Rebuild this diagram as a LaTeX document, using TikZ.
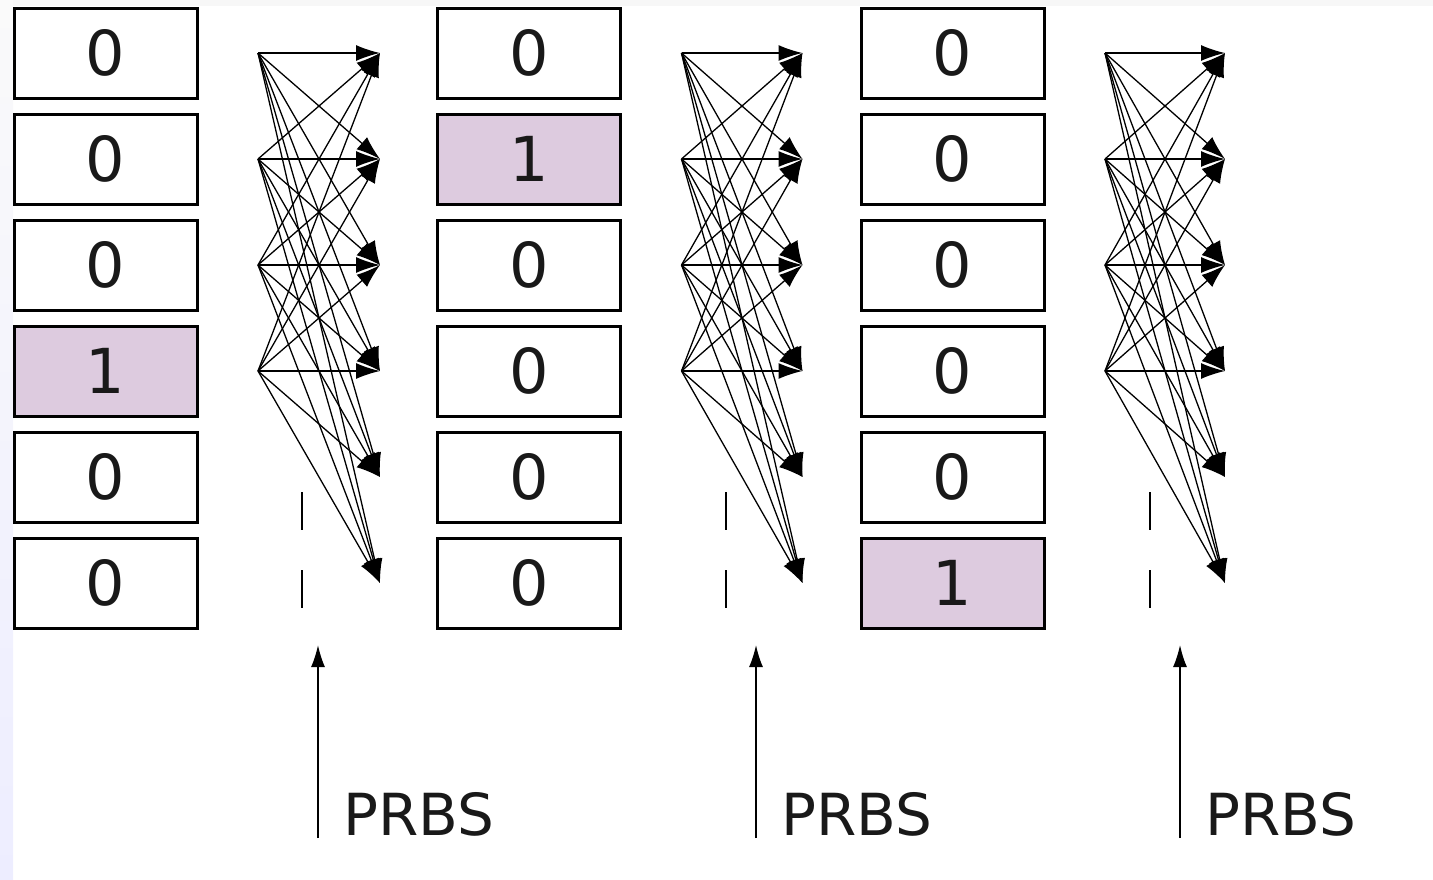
\documentclass[tikz,border=0pt]{standalone}
\usepackage{fontspec}
\setmainfont{DejaVu Sans}
\usetikzlibrary{arrows.meta}

\definecolor{bitpink}{RGB}{221,203,223}
\definecolor{ink}{RGB}{25,25,25}

\tikzset{
  cell/.style={draw, line width=3pt, minimum width=183pt, minimum height=90pt,
    inner sep=0pt, text=ink, font=\fontsize{62}{62}\selectfont},
  hot/.style={cell, fill=bitpink},
  wire/.style={line width=1.3pt, -{Latex[length=24pt,width=16pt]}},
  feed/.style={line width=1.5pt, -{Latex[length=22pt,width=14pt]}},
  gap/.style={line width=2pt, dash pattern=on 38pt off 40pt},
  tag/.style={anchor=base west, inner sep=0pt, text=ink, font=\fontsize{58}{58}\selectfont},
}

\begin{document}
\begin{tikzpicture}[x=1pt,y=-1pt]
\useasboundingbox (0,0) rectangle (1433,879);

% faint page edges
\shade[top color=gray!4, bottom color=blue!7] (0,0) rectangle (13,879);
\fill[gray!6] (13,0) rectangle (1433,6);

% Register columns, one bit set in each
\foreach \c/\hi in {1/4,2/2,3/6}{
  \foreach \r in {1,...,6}{
    \pgfmathsetmacro\bx{105.5+423.5*(\c-1)}
    \pgfmathsetmacro\by{53+106*(\r-1)}
    \ifnum\r=\hi
      \node[hot] (bit-\c-\r) at (\bx,\by) {1};
    \else
      \node[cell] (bit-\c-\r) at (\bx,\by) {0};
    \fi
  }
}

% Permutation networks
\foreach \c in {1,2,3}{
  \pgfmathsetmacro\sx{258+423.5*(\c-1)}
  \pgfmathsetmacro\tx{380+422.5*(\c-1)}
  \pgfmathsetmacro\dx{302+424*(\c-1)}
  \foreach \r in {1,...,4}
    \coordinate (src-\c-\r) at (\sx,{53+106*(\r-1)});
  \foreach \r in {1,...,6}
    \coordinate (dst-\c-\r) at (\tx,{53+106*(\r-1)});
  \foreach \i in {1,...,4}
    \foreach \j in {1,...,6}
      \draw[wire] (src-\c-\i) -- (dst-\c-\j);
  % continuation marks
  \coordinate (gap-\c-a) at (\dx,492);
  \coordinate (gap-\c-b) at (\dx,610);
  \draw[gap] (gap-\c-a) -- (gap-\c-b);
}

% PRBS inputs
\foreach \c/\ax in {1/318,2/756,3/1180}{
  \coordinate (in-\c) at (\ax,838);
  \coordinate (tap-\c) at (\ax,645);
  \node[tag] (prbs-\c) at (\ax+25,835) {PRBS};
  \draw[feed] (in-\c) -- (tap-\c);
}
\end{tikzpicture}
\end{document}
